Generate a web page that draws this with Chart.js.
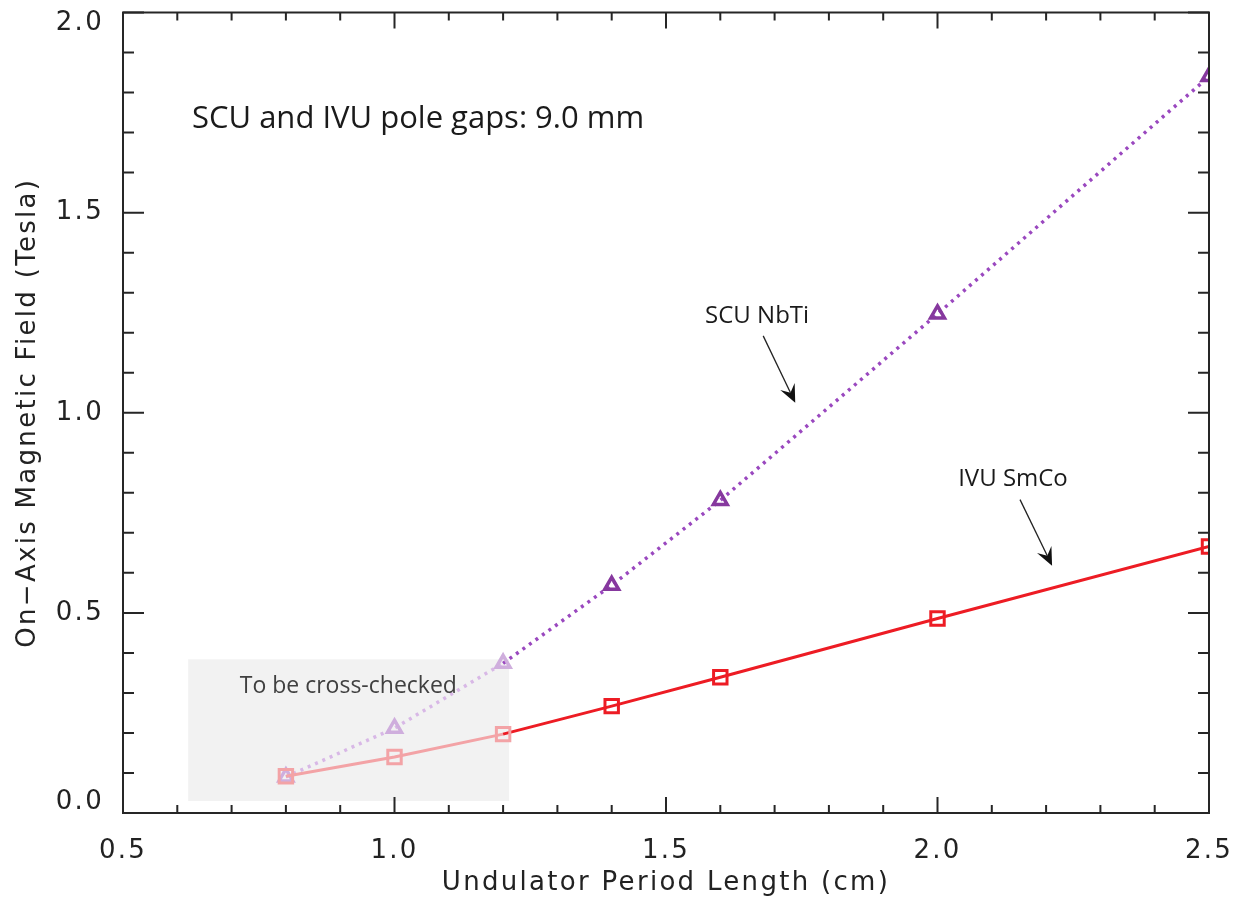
<!DOCTYPE html>
<html>
<head>
<meta charset="utf-8">
<script src="https://cdn.jsdelivr.net/npm/chart.js@4/dist/chart.umd.min.js"></script>
<style>
  html, body { margin: 0; padding: 0; background: #fff; }
  #wrap { width: 1235px; height: 901px; }
</style>
</head>
<body>
<div id="wrap"><canvas id="field-chart"></canvas></div>
<script>
// undulator period (cm) and peak on-axis field (T) at 9.0 mm pole gap
const periods = [0.8, 1.0, 1.2, 1.4, 1.6, 2.0, 2.5];
const scuNbTi = [0.09, 0.212, 0.374, 0.569, 0.781, 1.247, 1.84];
const ivuSmCo = [0.092, 0.14, 0.197, 0.267, 0.339, 0.486, 0.666];

const xTicks = [0.5, 1.0, 1.5, 2.0, 2.5];
const yTicks = [0.0, 0.5, 1.0, 1.5, 2.0];
const xTickLabels = ['0.5', '1.0', '1.5', '2.0', '2.5'];
const yTickLabels = ['0.0', '0.5', '1.0', '1.5', '2.0'];

// short periods not yet verified get washed-out colours
const uncheckedUpTo = 1.2;
const uncheckedBox = { x0: 0.62, x1: 1.211, y0: 0.03, y1: 0.384 };

const colors = {
  red: '#ed1c24', redPale: '#f3a3a6',
  purpleLine: '#9a48bf', purplePaleLine: '#d8b8e6',
  purpleMark: '#86389e', purplePaleMark: '#cfaedd',
  axis: '#262626'
};

const pale = (full, faded) => ctx => ctx.parsed && ctx.parsed.x <= uncheckedUpTo ? faded : full;
const paleSegment = (faded) => ctx => ctx.p1.parsed.x <= uncheckedUpTo ? faded : undefined;

const axisFont = { family: '"DejaVu Sans", sans-serif', size: 26 };

const overlay = {
  id: 'overlay',
  beforeDraw(chart) {
    // wide IDL-style lettering for the axis text
    chart.ctx.letterSpacing = '2.3px';
  },
  beforeDatasetsDraw(chart) {
    const { ctx, scales: { x, y } } = chart;
    ctx.letterSpacing = '0px';
    ctx.save();
    ctx.fillStyle = '#f2f2f2';
    const l = x.getPixelForValue(uncheckedBox.x0), r = x.getPixelForValue(uncheckedBox.x1);
    const t = y.getPixelForValue(uncheckedBox.y1), b = y.getPixelForValue(uncheckedBox.y0);
    ctx.fillRect(l, t, r - l, b - t);
    ctx.restore();
  },
  afterDatasetsDraw(chart) {
    const { ctx, scales: { x, y } } = chart;
    ctx.save();
    ctx.textBaseline = 'alphabetic';
    ctx.textAlign = 'left';

    ctx.fillStyle = '#1a1a1a';
    ctx.font = '31px "Open Sans", sans-serif';
    ctx.fillText('SCU and IVU pole gaps: 9.0 mm', x.getPixelForValue(0.627), y.getPixelForValue(1.711));

    ctx.font = '24px "Open Sans", sans-serif';
    ctx.fillText('SCU NbTi', x.getPixelForValue(1.572), y.getPixelForValue(1.224));
    ctx.fillText('IVU SmCo', x.getPixelForValue(2.038), y.getPixelForValue(0.818));

    ctx.fillStyle = '#404040';
    ctx.font = '23px "Open Sans", sans-serif';
    ctx.fillText('To be cross-checked', x.getPixelForValue(0.715), y.getPixelForValue(0.299));

    arrow(ctx, x.getPixelForValue(1.679), y.getPixelForValue(1.192), x.getPixelForValue(1.738), y.getPixelForValue(1.025));
    arrow(ctx, x.getPixelForValue(2.152), y.getPixelForValue(0.783), x.getPixelForValue(2.211), y.getPixelForValue(0.618));
    ctx.restore();
  },
  afterDraw(chart) {
    const { ctx, chartArea: a, scales: { x, y } } = chart;
    ctx.save();
    ctx.strokeStyle = colors.axis;
    ctx.lineWidth = 2;
    ctx.strokeRect(a.left, a.top, a.right - a.left, a.bottom - a.top);
    ctx.beginPath();
    // inward ticks on all four sides, minor every 0.1
    const xFirst = Math.round(xTicks[0] * 10), xLast = Math.round(xTicks[xTicks.length - 1] * 10);
    for (let v = xFirst; v <= xLast; v++) {
      const px = x.getPixelForValue(v / 10);
      const len = v % 5 === 0 ? 16 : 8;
      ctx.moveTo(px, a.bottom); ctx.lineTo(px, a.bottom - len);
      ctx.moveTo(px, a.top); ctx.lineTo(px, a.top + len);
    }
    const yFirst = Math.round(yTicks[0] * 10), yLast = Math.round(yTicks[yTicks.length - 1] * 10);
    for (let v = yFirst; v <= yLast; v++) {
      const py = y.getPixelForValue(v / 10);
      const len = v % 5 === 0 ? 21 : 11;
      ctx.moveTo(a.left, py); ctx.lineTo(a.left + len, py);
      ctx.moveTo(a.right, py); ctx.lineTo(a.right - len, py);
    }
    ctx.stroke();
    ctx.restore();
  }
};

function arrow(ctx, x0, y0, x1, y1) {
  const ang = Math.atan2(y1 - y0, x1 - x0);
  const head = 18, half = 8, notch = 11;
  ctx.strokeStyle = '#222';
  ctx.fillStyle = '#111';
  ctx.lineWidth = 1.3;
  ctx.beginPath();
  ctx.moveTo(x0, y0);
  ctx.lineTo(x1 - Math.cos(ang) * notch, y1 - Math.sin(ang) * notch);
  ctx.stroke();
  const bx = x1 - Math.cos(ang) * head, by = y1 - Math.sin(ang) * head;
  const nx = -Math.sin(ang), ny = Math.cos(ang);
  ctx.beginPath();
  ctx.moveTo(x1, y1);
  ctx.lineTo(bx + nx * half, by + ny * half);
  ctx.lineTo(x1 - Math.cos(ang) * notch, y1 - Math.sin(ang) * notch);
  ctx.lineTo(bx - nx * half, by - ny * half);
  ctx.closePath();
  ctx.fill();
}

new Chart(document.getElementById('field-chart'), {
  type: 'line',
  data: {
    datasets: [
      {
        label: 'IVU SmCo',
        data: periods.map((p, i) => ({ x: p, y: ivuSmCo[i] })),
        borderColor: colors.red,
        borderWidth: 3,
        segment: { borderColor: paleSegment(colors.redPale) },
        pointStyle: 'rect',
        pointRadius: 9.5,
        pointBorderWidth: 3,
        pointBackgroundColor: 'rgba(0,0,0,0)',
        pointBorderColor: pale(colors.red, colors.redPale),
        clip: 0
      },
      {
        label: 'SCU NbTi',
        data: periods.map((p, i) => ({ x: p, y: scuNbTi[i] })),
        borderColor: colors.purpleLine,
        borderWidth: 3.5,
        borderDash: [3, 5],
        segment: { borderColor: paleSegment(colors.purplePaleLine) },
        pointStyle: 'triangle',
        pointRadius: 8,
        pointBorderWidth: 3.5,
        pointBackgroundColor: 'rgba(0,0,0,0)',
        pointBorderColor: pale(colors.purpleMark, colors.purplePaleMark),
        clip: 0
      }
    ]
  },
  options: {
    responsive: true,
    maintainAspectRatio: false,
    animation: false,
    events: [],
    layout: { padding: { top: 11, right: 26, left: 0, bottom: 0 } },
    plugins: { legend: { display: false }, tooltip: { enabled: false } },
    scales: {
      x: {
        type: 'linear',
        min: xTicks[0],
        max: xTicks[xTicks.length - 1],
        afterBuildTicks: s => { s.ticks = xTicks.map(v => ({ value: v })); },
        afterFit: s => { s.height = 88; s.paddingLeft = 0; s.paddingRight = 0; },
        grid: { display: false },
        border: { display: false },
        ticks: {
          color: '#222',
          font: axisFont,
          padding: 15,
          maxRotation: 0,
          callback: (v, i) => xTickLabels[i]
        },
        title: {
          display: true,
          text: 'Undulator Period Length (cm)',
          color: '#222',
          font: { family: axisFont.family, size: 26, lineHeight: 1 },
          padding: { top: 0, bottom: 5 }
        }
      },
      y: {
        type: 'linear',
        min: yTicks[0],
        max: yTicks[yTicks.length - 1],
        afterBuildTicks: s => { s.ticks = yTicks.map(v => ({ value: v })); },
        afterFit: s => { s.width = 123; s.paddingTop = 0; s.paddingBottom = 0; },
        grid: { display: false },
        border: { display: false },
        ticks: {
          color: '#222',
          font: { family: axisFont.family, size: 26, lineHeight: 0.85 },
          padding: 11,
          // end labels are nudged inside the frame
          callback: (v, i) => i === 0 ? [yTickLabels[i], ''] :
            i === yTickLabels.length - 1 ? ['', yTickLabels[i]] : yTickLabels[i]
        },
        title: {
          display: true,
          text: 'On−Axis Magnetic Field (Tesla)',
          color: '#222',
          font: { family: axisFont.family, size: 26, lineHeight: 1 },
          padding: { top: 15, bottom: 0 }
        }
      }
    }
  },
  plugins: [overlay]
});
</script>
</body>
</html>
